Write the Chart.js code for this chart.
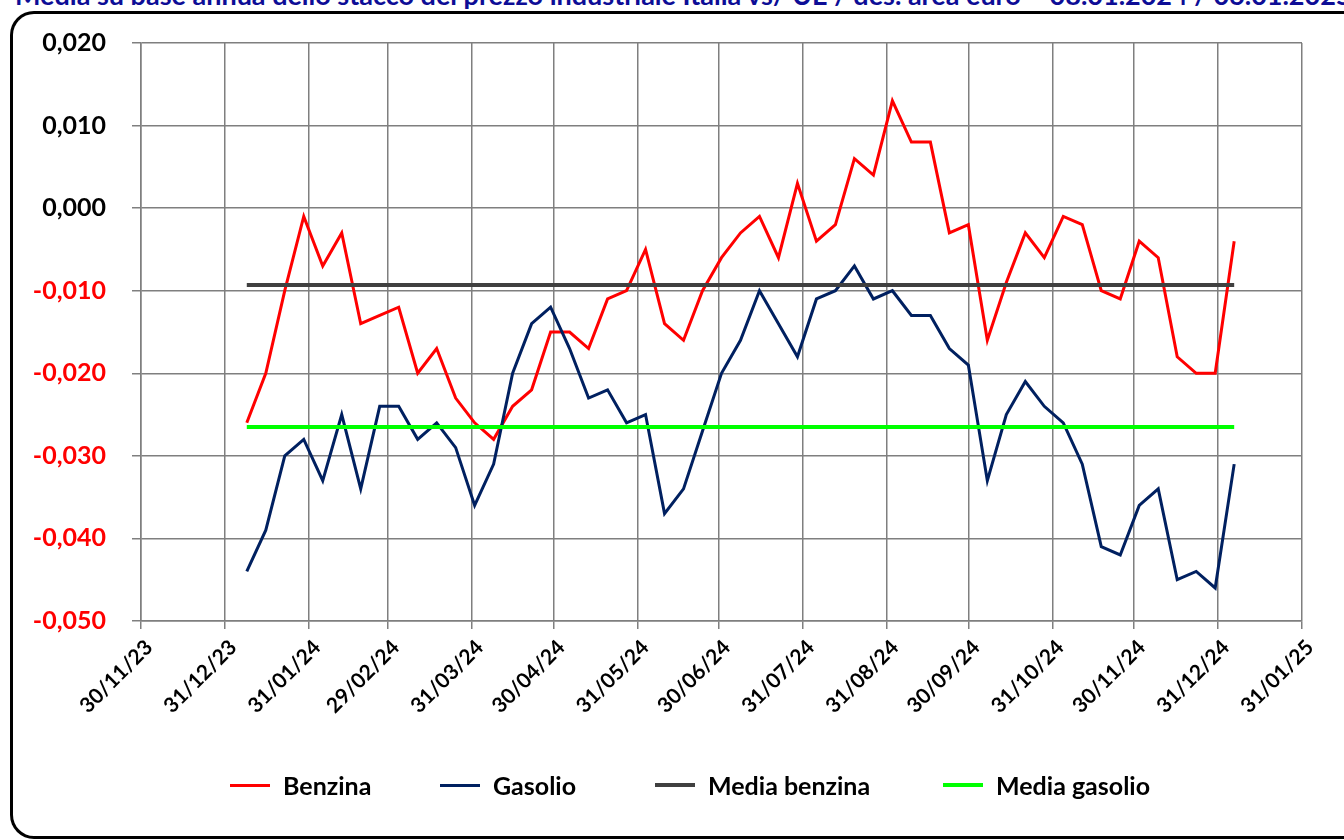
<!DOCTYPE html>
<html>
<head>
<meta charset="utf-8">
<script src="https://cdn.jsdelivr.net/npm/chart.js@4/dist/chart.umd.min.js"></script>
<style>
  html, body { margin: 0; padding: 0; background: #fff; overflow: hidden; }
  body { width: 1344px; height: 840px; position: relative; font-family: Lato, "Open Sans", sans-serif; }
  #titolo { position: absolute; left: 15px; top: -19px; white-space: nowrap; font-weight: bold; font-size: 27px; line-height: 27px; color: #0d0d96; }
  #cornice { position: absolute; left: 10px; top: 11px; width: 1500px; height: 822px; border: 3px solid #000; border-right: none; border-radius: 24px 0 0 24px; }
  #grafico { position: absolute; left: 0; top: 0; }
  .voce { position: absolute; top: 770px; display: flex; align-items: center; font-weight: bold; font-size: 25px; color: #000; white-space: nowrap; }
  .linea { width: 40px; margin-right: 13px; }
</style>
</head>
<body>
<div id="titolo">Media su base annua dello stacco del prezzo industriale Italia vs/ UE / des. area euro – 08.01.2024 / 06.01.2025</div>
<div id="cornice"></div>
<canvas id="grafico" width="1344" height="840"></canvas>
<script>
// D A T I -----------------------------------------------------------------
const date = ['08/01/24','15/01/24','22/01/24','29/01/24','05/02/24','12/02/24','19/02/24','26/02/24',
  '04/03/24','11/03/24','18/03/24','25/03/24','01/04/24','08/04/24','15/04/24','22/04/24','29/04/24',
  '06/05/24','13/05/24','20/05/24','27/05/24','03/06/24','10/06/24','17/06/24','24/06/24',
  '01/07/24','08/07/24','15/07/24','22/07/24','29/07/24','05/08/24','12/08/24','19/08/24','26/08/24',
  '02/09/24','09/09/24','16/09/24','23/09/24','30/09/24','07/10/24','14/10/24','21/10/24','28/10/24',
  '04/11/24','11/11/24','18/11/24','25/11/24','02/12/24','09/12/24','16/12/24','23/12/24','30/12/24','06/01/25'];

const benzina = [-0.026,-0.020,-0.010,-0.001,-0.007,-0.003,-0.014,-0.013,-0.012,-0.020,
  -0.017,-0.023,-0.026,-0.028,-0.024,-0.022,-0.015,-0.015,-0.017,-0.011,
  -0.010,-0.005,-0.014,-0.016,-0.010,-0.006,-0.003,-0.001,-0.006,0.003,
  -0.004,-0.002,0.006,0.004,0.013,0.008,0.008,-0.003,-0.002,-0.016,
  -0.009,-0.003,-0.006,-0.001,-0.002,-0.010,-0.011,-0.004,-0.006,-0.018,
  -0.020,-0.020,-0.004];

const gasolio = [-0.044,-0.039,-0.030,-0.028,-0.033,-0.025,-0.034,-0.024,-0.024,-0.028,
  -0.026,-0.029,-0.036,-0.031,-0.020,-0.014,-0.012,-0.017,-0.023,-0.022,
  -0.026,-0.025,-0.037,-0.034,-0.027,-0.020,-0.016,-0.010,-0.014,-0.018,
  -0.011,-0.010,-0.007,-0.011,-0.010,-0.013,-0.013,-0.017,-0.019,-0.033,
  -0.025,-0.021,-0.024,-0.026,-0.031,-0.041,-0.042,-0.036,-0.034,-0.045,
  -0.044,-0.046,-0.031];

const mediaBenzina = -0.0093;
const mediaGasolio = -0.0265;

const etichetteX = ['30/11/23','31/12/23','31/01/24','29/02/24','31/03/24','30/04/24','31/05/24',
  '30/06/24','31/07/24','31/08/24','30/09/24','31/10/24','30/11/24','31/12/24','31/01/25'];

const nomi = ['Benzina', 'Gasolio', 'Media benzina', 'Media gasolio'];
const colori = ['#ff0000', '#002060', '#404040', '#00ff00'];
const spessori = [3, 3, 4, 4];
const posLegenda = [230, 440, 655, 943];   // x di partenza di ogni voce

// da "gg/mm/aa" a numero di giorni
function giorno(s) {
  const p = s.split('/');
  return Date.UTC(2000 + parseInt(p[2]), parseInt(p[1]) - 1, parseInt(p[0])) / 86400000;
}

const giorni = date.map(giorno);
const primo = giorni[0], ultimo = giorni[giorni.length - 1];

const serie = [
  benzina.map((v, i) => ({ x: giorni[i], y: v })),
  gasolio.map((v, i) => ({ x: giorni[i], y: v })),
  [{ x: primo, y: mediaBenzina }, { x: ultimo, y: mediaBenzina }],
  [{ x: primo, y: mediaGasolio }, { x: ultimo, y: mediaGasolio }]
];

const datasets = serie.map((d, i) => ({
  label: nomi[i],
  data: d,
  borderColor: colori[i],
  backgroundColor: colori[i],
  borderWidth: spessori[i],
  pointRadius: 0,
  tension: 0,
  order: 4 - i
}));

const tickX = etichetteX.map(giorno);

new Chart(document.getElementById('grafico'), {
  type: 'line',
  data: { datasets: datasets },
  options: {
    responsive: false,
    animation: false,
    devicePixelRatio: 1,
    layout: { padding: { top: 43, right: 42, left: 0, bottom: 0 } },
    plugins: { legend: { display: false }, tooltip: { enabled: false } },
    scales: {
      x: {
        type: 'linear',
        min: tickX[0],
        max: tickX[tickX.length - 1],
        afterBuildTicks: s => { s.ticks = tickX.map(v => ({ value: v })); },
        afterFit: s => { s.height = 219; },
        grid: { color: '#7f7f7f', lineWidth: 1.5, tickLength: 8 },
        border: { color: '#7f7f7f', width: 1.5 },
        ticks: {
          autoSkip: false,
          minRotation: 45,
          maxRotation: 45,
          padding: 6,
          labelOffset: 8,
          color: '#000',
          font: { family: 'Lato', weight: 'bold', size: 21 },
          callback: v => etichetteX[tickX.indexOf(v)]
        }
      },
      y: {
        min: -0.05,
        max: 0.02,
        afterFit: s => { s.width = 141; },
        grid: { color: '#7f7f7f', lineWidth: 1.5, tickLength: 9 },
        border: { color: '#7f7f7f', width: 1.5 },
        ticks: {
          stepSize: 0.01,
          padding: 26,
          font: { family: 'Lato', weight: 'bold', size: 25 },
          color: c => c.tick.value < -1e-9 ? '#ff0000' : '#000',
          callback: v => {
            const r = Math.round(v * 1000) / 1000;
            return (r === 0 ? 0 : r).toFixed(3).replace('.', ',');
          }
        }
      }
    }
  }
});

// L E G E N D A
nomi.forEach((n, i) => {
  const voce = document.createElement('div');
  voce.className = 'voce';
  voce.style.left = posLegenda[i] + 'px';
  const linea = document.createElement('span');
  linea.className = 'linea';
  linea.style.height = spessori[i] + 'px';
  linea.style.background = colori[i];
  voce.appendChild(linea);
  voce.appendChild(document.createTextNode(n));
  document.body.appendChild(voce);
});
</script>
</body>
</html>
